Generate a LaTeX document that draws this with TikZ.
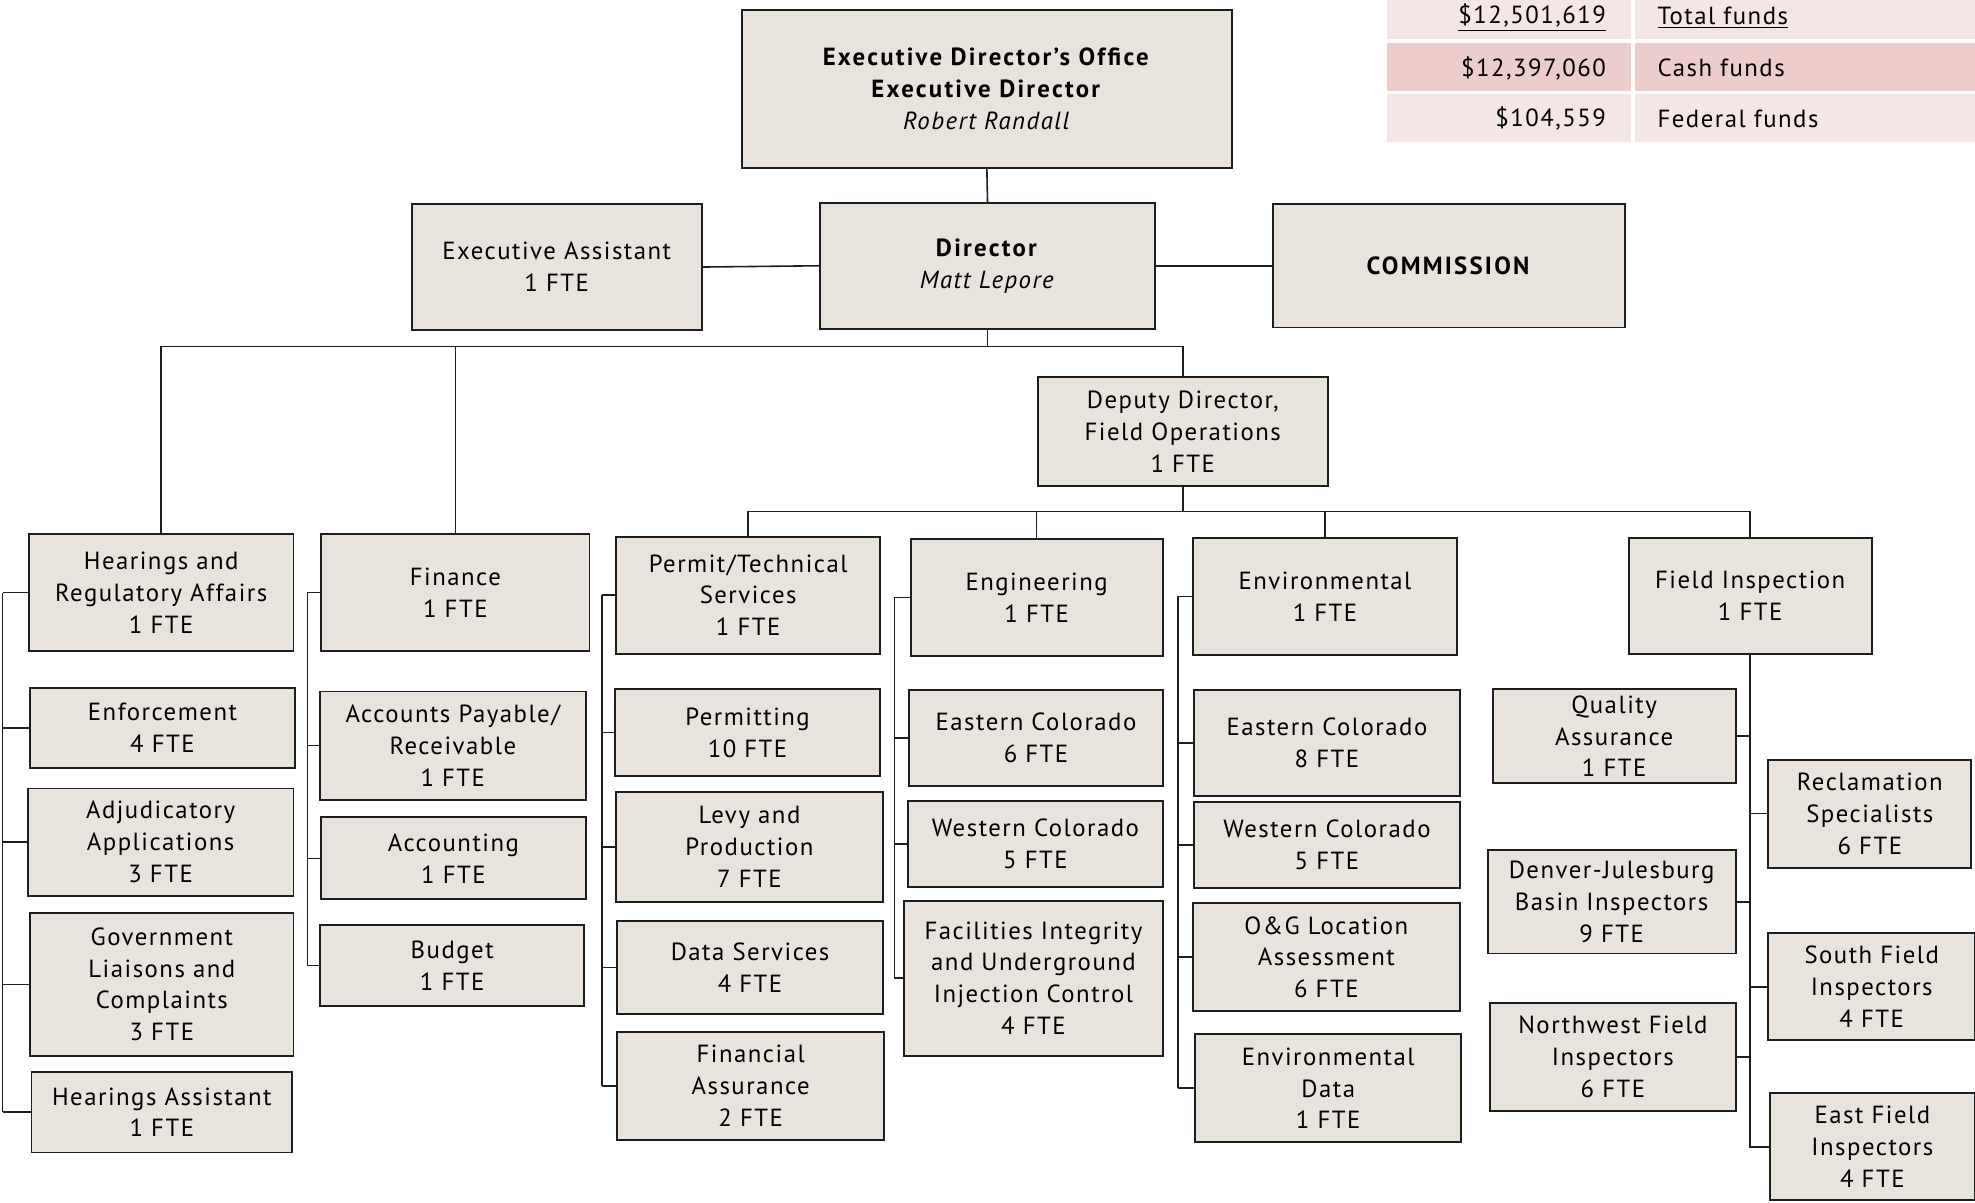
\documentclass[tikz,border=0pt]{standalone}
\usepackage{fontspec}
\setmainfont{PT Sans}[LetterSpace=6, BoldFeatures={LetterSpace=9}]
\definecolor{boxfill}{RGB}{232,228,221}
\definecolor{boxline}{RGB}{30,30,30}
\definecolor{fundlight}{RGB}{245,230,230}
\definecolor{funddark}{RGB}{237,205,204}
\begin{document}
\begin{tikzpicture}[x=0.025cm, y=-0.025cm,
    every node/.style={font=\fontsize{14}{18}\selectfont},
    unit/.style={draw=boxline, fill=boxfill, line width=1.1pt, align=center, inner sep=0pt},
    boxw/.style={minimum width=#1*0.025cm},
    boxh/.style={minimum height=#1*0.025cm},
    link/.style={draw=boxline, line width=0.9pt}]
    \useasboundingbox (0,0) rectangle (1568,955);

    % funds table
    \fill[fundlight] (1101,0) rectangle (1295,31);
    \fill[fundlight] (1298,0) rectangle (1568,31);
    \fill[funddark] (1101,34) rectangle (1295,72);
    \fill[funddark] (1298,34) rectangle (1568,72);
    \fill[fundlight] (1101,75) rectangle (1295,113);
    \fill[fundlight] (1298,75) rectangle (1568,113);
    \node[anchor=east] (totval) at (1280,14) {\underline{\$12,501,619}};
    \node[anchor=west] (totlab) at (1311,14) {\underline{Total funds}};
    \node[anchor=east] (cashval) at (1280,54) {\$12,397,060};
    \node[anchor=west] (cashlab) at (1311,54) {Cash funds};
    \node[anchor=east] (fedval) at (1280,94) {\$104,559};
    \node[anchor=west] (fedlab) at (1311,94) {Federal funds};

    % top level
    \node[unit, boxw=389, boxh=125] (edo) at (783.5,70.5)
        {\textbf{Executive Director’s Office}\\\textbf{Executive Director}\\\textit{Robert Randall}};
    \node[unit, boxw=230, boxh=100] (easst) at (442,212) {Executive Assistant\\1 FTE};
    \node[unit, boxw=266, boxh=100] (dir) at (784,211) {\textbf{Director}\\\textit{Matt Lepore}};
    \node[unit, boxw=279, boxh=98] (comm) at (1150.5,211) {\textbf{COMMISSION}};
    \node[unit, boxw=230, boxh=87] (dep) at (939,342.5) {Deputy Director,\\Field Operations\\1 FTE};

    % hearings column
    \node[unit, boxw=210, boxh=93] (hra) at (128,470.5) {Hearings and\\Regulatory Affairs\\1 FTE};
    \node[unit, boxw=210, boxh=64] (enf) at (129,578) {Enforcement\\4 FTE};
    \node[unit, boxw=211, boxh=85] (adj) at (127.5,668.5) {Adjudicatory\\Applications\\3 FTE};
    \node[unit, boxw=209, boxh=113] (gov) at (128.5,781.5) {Government\\Liaisons and\\Complaints\\3 FTE};
    \node[unit, boxw=207, boxh=64] (hasst) at (128.5,883) {Hearings Assistant\\1 FTE};

    % finance column
    \node[unit, boxw=213, boxh=93] (fin) at (361.5,470.5) {Finance\\1 FTE};
    \node[unit, boxw=211, boxh=86] (apr) at (359.5,592) {Accounts Payable/\\Receivable\\1 FTE};
    \node[unit, boxw=210, boxh=65] (acct) at (360,681.5) {Accounting\\1 FTE};
    \node[unit, boxw=210, boxh=65] (bud) at (359,766.5) {Budget\\1 FTE};

    % permit column
    \node[unit, boxw=210, boxh=93] (pts) at (594,472.5) {Permit/Technical\\Services\\1 FTE};
    \node[unit, boxw=211, boxh=69] (pmt) at (593.5,581.5) {Permitting\\10 FTE};
    \node[unit, boxw=212, boxh=87] (levy) at (595,672.5) {Levy and\\Production\\7 FTE};
    \node[unit, boxw=211, boxh=74] (data) at (595.5,768) {Data Services\\4 FTE};
    \node[unit, boxw=212, boxh=86] (fina) at (596,862) {Financial\\Assurance\\2 FTE};

    % engineering column
    \node[unit, boxw=200, boxh=93] (eng) at (823,474.5) {Engineering\\1 FTE};
    \node[unit, boxw=201, boxh=76] (engE) at (822.5,586) {Eastern Colorado\\6 FTE};
    \node[unit, boxw=202, boxh=68] (engW) at (822,670) {Western Colorado\\5 FTE};
    \node[unit, boxw=205, boxh=123] (fiuic) at (820.5,776.5)
        {Facilities Integrity\\and Underground\\Injection Control\\4 FTE};

    % environmental column
    \node[unit, boxw=210, boxh=93] (env) at (1052,473.5) {Environmental\\1 FTE};
    \node[unit, boxw=211, boxh=84] (envE) at (1053.5,590) {Eastern Colorado\\8 FTE};
    \node[unit, boxw=211, boxh=68] (envW) at (1053.5,671) {Western Colorado\\5 FTE};
    \node[unit, boxw=212, boxh=86] (ogla) at (1053,760) {O\&G Location\\Assessment\\6 FTE};
    \node[unit, boxw=211, boxh=86] (envD) at (1054.5,864) {Environmental\\Data\\1 FTE};

    % field inspection column
    \node[unit, boxw=193, boxh=92] (fi) at (1389.5,473) {Field Inspection\\1 FTE};
    \node[unit, boxw=193, boxh=75] (qa) at (1281.5,584.5) {Quality\\Assurance\\1 FTE};
    \node[unit, boxw=161, boxh=86] (recl) at (1484.5,646) {Reclamation\\Specialists\\6 FTE};
    \node[unit, boxw=197, boxh=82] (djb) at (1279.5,716) {Denver-Julesburg\\Basin Inspectors\\9 FTE};
    \node[unit, boxw=164, boxh=85] (sfi) at (1486,783.5) {South Field\\Inspectors\\4 FTE};
    \node[unit, boxw=195, boxh=86] (nwf) at (1280.5,839) {Northwest Field\\Inspectors\\6 FTE};
    \node[unit, boxw=163, boxh=85] (efi) at (1486.5,910.5) {East Field\\Inspectors\\4 FTE};

    % top links
    \draw[link] (edo.south) -- (dir.north);
    \draw[link] (easst.east) -- (dir.west);
    \draw[link] (dir.east) -- (comm.west);
    \coordinate (topbus) at (784,275);
    \draw[link] (dir.south) -- (topbus);
    \draw[link] (hra.north) |- (topbus) -| (dep.north);
    \draw[link] (fin.north) -- (fin.north |- topbus);

    % deputy links
    \coordinate (depbus) at (939,406);
    \draw[link] (dep.south) -- (depbus);
    \draw[link] (pts.north) |- (depbus) -| (fi.north);
    \foreach \c in {eng,env}
        \draw[link] (\c.north) -- (\c.north |- depbus);

    % column spines
    \coordinate (hsp) at (2,0);
    \coordinate (fsp) at (244,0);
    \coordinate (psp) at (478,0);
    \coordinate (esp) at (710,0);
    \coordinate (vsp) at (935,0);

    \draw[link] (hra.west -| hsp) -- (hasst.west -| hsp);
    \foreach \c in {hra,enf,adj,gov,hasst}
        \draw[link] (\c.west) -- (\c.west -| hsp);

    \draw[link] (fin.west -| fsp) -- (bud.west -| fsp);
    \foreach \c in {fin,apr,acct,bud}
        \draw[link] (\c.west) -- (\c.west -| fsp);

    \draw[link] (pts.west -| psp) -- (fina.west -| psp);
    \foreach \c in {pts,pmt,levy,data,fina}
        \draw[link] (\c.west) -- (\c.west -| psp);

    \draw[link] (eng.west -| esp) -- (fiuic.west -| esp);
    \foreach \c in {eng,engE,engW,fiuic}
        \draw[link] (\c.west) -- (\c.west -| esp);

    \draw[link] (env.west -| vsp) -- (envD.west -| vsp);
    \foreach \c in {env,envE,envW,ogla,envD}
        \draw[link] (\c.west) -- (\c.west -| vsp);

    % field inspection links
    \draw[link] (fi.south) -- (fi.south |- efi.west) -- (efi.west);
    \foreach \c in {qa,djb,nwf}
        \draw[link] (\c.east) -- (\c.east -| fi.south);
    \foreach \c in {recl,sfi}
        \draw[link] (\c.west) -- (\c.west -| fi.south);
\end{tikzpicture}
\end{document}
